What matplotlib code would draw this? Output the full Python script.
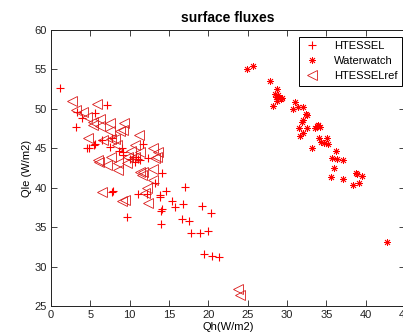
import matplotlib.pyplot as plt

# HTESSEL (+)
htessel_qh = [1.1, 7.1, 5.6, 3.3, 3.9, 3.2, 4.6, 4.8, 5.5, 6.5, 7.5, 7.7, 5.6, 9.0, 9.2,
              9.2, 10.0, 10.4, 10.7, 11.0, 11.3, 10.8, 11.7, 12.3, 14.1, 7.9, 7.7, 9.6,
              11.0, 12.2, 13.9, 13.9, 14.6, 14.1, 14.0, 14.0, 13.2, 17.0, 15.4, 15.7,
              16.8, 16.6, 17.6, 17.8, 18.9, 20.0, 19.2, 20.3, 19.5, 20.5, 21.4, 8.6]
htessel_qle = [52.6, 50.5, 49.5, 49.6, 48.8, 47.7, 45.0, 45.0, 45.4, 46.1, 45.2, 46.3, 45.5,
               45.0, 44.5, 44.2, 43.6, 43.9, 43.3, 43.7, 43.5, 43.9, 45.6, 43.8, 41.9, 39.6,
               39.5, 36.3, 39.2, 39.2, 39.1, 38.8, 39.6, 37.3, 37.1, 35.4, 40.6, 40.1, 38.3,
               37.6, 37.9, 36.0, 35.8, 34.3, 34.3, 34.5, 37.7, 36.8, 31.6, 31.4, 31.2, 44.7]

# Waterwatch (*)
water_qh = [24.9, 25.7, 27.8, 28.7, 28.5, 28.8, 28.6, 29.2, 28.7, 28.2, 31.0, 31.4, 30.7,
            32.0, 32.4, 32.6, 32.0, 31.5, 32.5, 32.0, 33.5, 34.0, 34.2, 34.1, 34.3, 35.1,
            34.7, 33.2, 35.2, 36.2, 35.7, 36.3, 37.1, 36.0, 35.6, 37.1, 38.9, 39.5, 38.8,
            38.4, 39.1, 42.7, 29.4, 31.9, 33.8, 33.9, 31.7]
water_qle = [55.1, 55.4, 53.5, 52.5, 51.9, 51.7, 51.5, 51.2, 51.0, 50.4, 50.9, 50.2, 50.0,
             50.2, 49.3, 49.2, 48.6, 47.6, 47.6, 46.9, 47.6, 47.9, 47.7, 46.3, 45.8, 46.3,
             45.7, 45.0, 45.5, 44.6, 43.8, 43.6, 43.5, 42.5, 41.4, 41.1, 41.7, 41.5, 41.9,
             40.3, 40.6, 33.1, 51.4, 48.3, 47.8, 48.0, 46.5]

# HTESSELref (<)
ref_qh = [2.7, 3.2, 5.8, 4.6, 5.3, 6.2, 6.2, 7.5, 9.3, 7.5, 8.8, 4.7, 6.6, 7.6, 11.2, 8.4,
          10.7, 13.0, 13.6, 13.5, 6.0, 7.1, 7.6, 8.5, 9.6, 8.5, 11.3, 13.0, 9.8, 10.7,
          6.5, 6.1, 11.6, 13.0, 12.2, 9.0, 9.4, 12.3, 12.0, 11.7, 23.8, 24.0, 5.4, 9.2,
          11.3, 13.2, 8.1, 10.2, 4.1]
ref_qle = [51.0, 49.8, 50.6, 49.0, 48.3, 48.7, 47.8, 48.2, 48.2, 47.2, 47.2, 46.3, 46.1,
           46.2, 46.7, 45.4, 45.4, 45.0, 44.5, 43.9, 43.5, 42.9, 43.9, 43.1, 43.1, 42.2,
           42.0, 42.4, 43.9, 43.9, 39.5, 43.3, 41.6, 41.0, 40.0, 38.3, 38.5, 38.0, 39.3,
           42.0, 27.1, 26.4, 47.9, 47.3, 44.5, 43.8, 46.2, 44.6, 49.6]

plt.rcParams['font.family'] = ['Liberation Sans', 'DejaVu Sans']

fig = plt.figure(figsize=(4.03, 3.34), dpi=100)
ax = fig.add_axes([51/403, 28/334, 354/403, 276/334])

red = (1, 0, 0)
ax.plot(htessel_qh, htessel_qle, '+', color=red, ms=6, mew=0.8, label='HTESSEL')
ax.plot(water_qh, water_qle, ls='none', marker=(8, 2, 0), color=red, ms=5, mew=0.6,
        label='Waterwatch')
ax.plot(ref_qh, ref_qle, '<', color=(0.85, 0.1, 0.1), mfc='none', ms=6.5, mew=0.6,
        label='HTESSELref')

ax.set_xlim(0, 45)
ax.set_ylim(25, 60)
ax.set_xticks(range(0, 46, 5))
ax.set_yticks(range(25, 61, 5))
ax.tick_params(direction='in', top=True, right=True, labelsize=8, length=4,
               width=0.6, pad=3, colors='#222222')
for sp in ax.spines.values():
    sp.set_linewidth(0.7)
    sp.set_color('#222222')

ax.set_title('surface fluxes', fontsize=10, fontweight='bold', pad=6)
ax.set_xlabel('Qh(W/m2)', fontsize=8, labelpad=1)
ax.set_ylabel('Qle (W/m2)', fontsize=8, labelpad=2)

leg = ax.legend(loc='upper right', bbox_to_anchor=(0.992, 0.975), borderaxespad=0,
                fontsize=8, fancybox=False, edgecolor='black', framealpha=1,
                handlelength=1.6, labelspacing=0.45, borderpad=0.4, handletextpad=1.2)
leg.get_frame().set_linewidth(0.7)

fig.savefig('out.png', dpi=100)
